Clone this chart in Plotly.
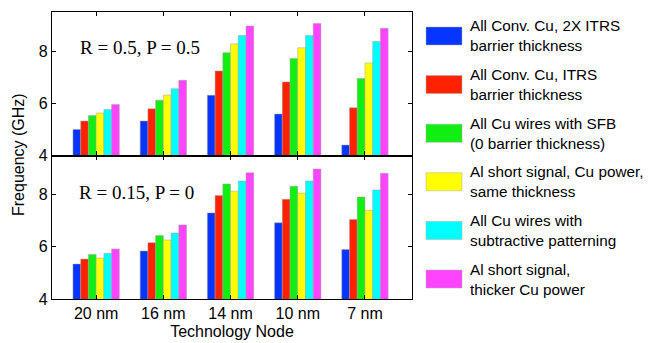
import plotly.graph_objects as go
from plotly.subplots import make_subplots

nodes = ["20 nm", "16 nm", "14 nm", "10 nm", "7 nm"]
series_names = [
    "All Conv. Cu, 2X ITRS<br>barrier thickness",
    "All Conv. Cu, ITRS<br>barrier thickness",
    "All Cu wires with SFB<br>(0 barrier thickness)",
    "Al short signal, Cu power,<br>same thickness",
    "All Cu wires with<br>subtractive patterning",
    "Al short signal,<br>thicker Cu power",
]
colors = ["#0535FF", "#FF2200", "#11EE11", "#FFFF00", "#00FFFF", "#FF44FF"]

# Top panel: R = 0.5, P = 0.5
top_conv_2x = [5.00, 5.32, 6.31, 5.59, 4.40]
top_conv_itrs = [5.32, 5.79, 7.24, 6.82, 5.83]
top_sfb = [5.53, 6.12, 7.94, 7.72, 6.95]
top_al_same = [5.63, 6.32, 8.28, 8.13, 7.55]
top_subtr = [5.76, 6.56, 8.60, 8.60, 8.37]
top_al_thick = [5.95, 6.88, 8.96, 9.06, 8.88]

# Bottom panel: R = 0.15, P = 0
bot_conv_2x = [5.34, 5.84, 7.30, 6.92, 5.90]
bot_conv_itrs = [5.53, 6.16, 7.97, 7.82, 7.05]
bot_sfb = [5.71, 6.43, 8.41, 8.32, 7.91]
bot_al_same = [5.57, 6.26, 8.13, 8.06, 7.40]
bot_subtr = [5.75, 6.53, 8.52, 8.52, 8.18]
bot_al_thick = [5.92, 6.84, 8.84, 8.98, 8.82]

top_series = [top_conv_2x, top_conv_itrs, top_sfb, top_al_same, top_subtr, top_al_thick]
bot_series = [bot_conv_2x, bot_conv_itrs, bot_sfb, bot_al_same, bot_subtr, bot_al_thick]

y_ticks = [4, 6, 8]
y_range = [4, 9.5]

fig = make_subplots(rows=2, cols=1, shared_xaxes=True, vertical_spacing=0)

for row, data in ((1, top_series), (2, bot_series)):
    for name, col, vals in zip(series_names, colors, data):
        fig.add_trace(
            go.Bar(
                x=nodes, y=vals, name=name, showlegend=False,
                marker=dict(color=col, line=dict(color="rgba(160,160,160,0.8)", width=0.6)),
            ),
            row=row, col=1,
        )

W, H = 650, 343
L, R, T, B = 52, 238, 12, 44
ph = H - T - B
pw = W - L - R

axis_font = dict(family="Liberation Sans, Arial", size=16, color="black")

common_x = dict(
    range=[-0.657, 4.70], showline=True, linecolor="black", linewidth=1.2,
    mirror="ticks", ticks="inside", ticklen=4, tickcolor="black",
    tickfont=axis_font, showgrid=False, zeroline=False, ticklabelstandoff=0,
    automargin=False,
)
common_y = dict(
    range=y_range, tickvals=y_ticks, showline=True, linecolor="black", linewidth=1.2,
    mirror="ticks", ticks="inside", ticklen=4, tickcolor="black",
    tickfont=axis_font, showgrid=False, zeroline=False, automargin=False,
)

fig.update_xaxes(**common_x)
fig.update_yaxes(**common_y)
fig.update_xaxes(title=dict(text="Technology Node", font=axis_font, standoff=4), row=2, col=1)

fig.update_layout(
    width=W, height=H,
    margin=dict(l=L, r=R, t=T, b=B, pad=0),
    paper_bgcolor="white", plot_bgcolor="white",
    barmode="group", bargap=0.31, bargroupgap=0,
    yaxis=dict(domain=[0.5, 1.0]),
    yaxis2=dict(domain=[0.0, 0.5]),
    font=axis_font,
)

def py(ypx):
    return 1 - (ypx - T) / ph

def px(xpx):
    return (xpx - L) / pw

annotations = [
    dict(text="Frequency (GHz)", x=px(18), y=py(155), xref="paper", yref="paper",
         textangle=-90, showarrow=False, font=axis_font, xanchor="center", yanchor="middle"),
    dict(text="R = 0.5, P = 0.5", x=px(78), y=py(47), xref="paper", yref="paper",
         showarrow=False, xanchor="left", yanchor="middle",
         font=dict(family="Liberation Serif, Times New Roman", size=19, color="black")),
    dict(text="R = 0.15, P = 0", x=px(77), y=py(192), xref="paper", yref="paper",
         showarrow=False, xanchor="left", yanchor="middle",
         font=dict(family="Liberation Serif, Times New Roman", size=19, color="black")),
]

shapes = []
for i, (name, col) in enumerate(zip(series_names, colors)):
    cy = 36 + i * 48.6
    shapes.append(dict(
        type="rect", xref="paper", yref="paper",
        x0=px(426), x1=px(462), y0=py(cy + 9), y1=py(cy - 9),
        fillcolor=col, line=dict(color="rgba(170,170,170,0.8)", width=0.6),
    ))
    annotations.append(dict(
        text=name, x=px(468), y=py(cy), xref="paper", yref="paper",
        showarrow=False, xanchor="left", yanchor="middle", align="left",
        font=dict(family="Liberation Sans, Arial", size=15.3, color="black"),
    ))

fig.update_layout(annotations=annotations, shapes=shapes)

fig.write_html("out.html")
